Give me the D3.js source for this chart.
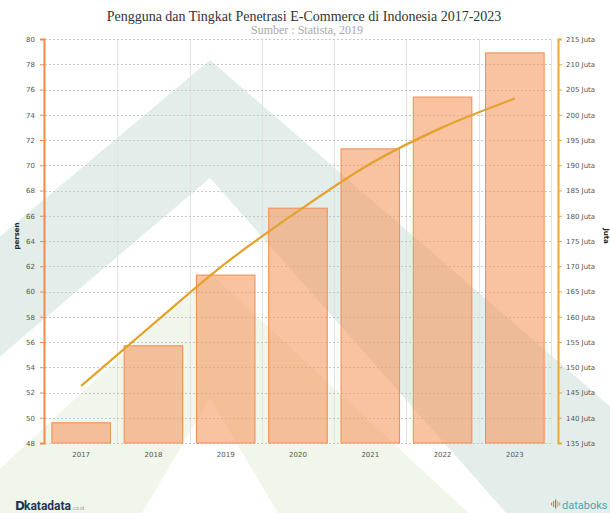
<!DOCTYPE html>
<html>
<head>
<meta charset="utf-8">
<script src="https://cdn.jsdelivr.net/npm/d3@7"></script>
<style>
    body { margin: 0; background: #fff; }
    svg { display: block; }
    .tick text { font-family: 'DejaVu Sans', sans-serif; font-size: 7px; fill: #555; }
</style>
</head>
<body>
<svg id="chart" width="610" height="513"></svg>
<script>
var years = ['2017', '2018', '2019', '2020', '2021', '2022', '2023'];
// tingkat penetrasi (persen), batang
var penetration = [49.6, 55.7, 61.3, 66.6, 71.3, 75.4, 78.9];
// pengguna (juta), garis
var users = [146.3, 158.6, 170.6, 180.9, 190.3, 197.5, 203.2];
var leftTicks = [48, 50, 52, 54, 56, 58, 60, 62, 64, 66, 68, 70, 72, 74, 76, 78, 80];
var rightTicks = [135, 140, 145, 150, 155, 160, 165, 170, 175, 180, 185, 190, 195, 200, 205, 210, 215];

var svg = d3.select('#chart');
var plotLeft = 45;
var plotRight = 551;
var plotTop = 39;
var plotBottom = 443;

var xScale = d3.scaleBand().domain(years).range([plotLeft, plotRight]).paddingInner(0.19).paddingOuter(0.095);
var yLeft = d3.scaleLinear().domain([48, 80]).range([plotBottom, plotTop]);
var yRight = d3.scaleLinear().domain([135, 215]).range([plotBottom, plotTop]);

// watermark di latar belakang
var wm = svg.append('g');
wm.append('polygon')
    .attr('points', '-10,245 210,60 620,415 620,540 530,540 210,178 -10,365')
    .attr('fill', '#e3eeeb');
wm.append('polygon')
    .attr('points', '-10,478 210,273 476,520 282,520 210,398 138,520 -10,520')
    .attr('fill', '#f0f6ea');

// grid
var step = xScale.step();
svg.append('g')
    .selectAll('line')
    .data(years)
    .enter()
    .append('line')
    .attr('x1', function (d, i) { return Math.round(plotLeft + step * (i + 1)) + 0.5; })
    .attr('x2', function (d, i) { return Math.round(plotLeft + step * (i + 1)) + 0.5; })
    .attr('y1', plotTop)
    .attr('y2', plotBottom)
    .attr('stroke', '#e2e2e2')
    .attr('stroke-width', 1);
svg.append('g')
    .selectAll('line')
    .data(leftTicks)
    .enter()
    .append('line')
    .attr('x1', plotLeft)
    .attr('x2', plotRight)
    .attr('y1', function (d) { return Math.round(yLeft(d)) + 0.5; })
    .attr('y2', function (d) { return Math.round(yLeft(d)) + 0.5; })
    .attr('stroke', '#c8c8c8')
    .attr('stroke-dasharray', '2,2');

// batang
svg.append('g')
    .selectAll('rect')
    .data(penetration)
    .enter()
    .append('rect')
    .attr('x', function (d, i) { return xScale(years[i]); })
    .attr('y', function (d) { return yLeft(d); })
    .attr('width', xScale.bandwidth())
    .attr('height', function (d) { return plotBottom - yLeft(d); })
    .attr('fill', '#f59a60')
    .attr('fill-opacity', 0.6)
    .attr('stroke', '#f28c50')
    .attr('stroke-width', 1);

// garis pengguna
var line = d3.line()
    .x(function (d, i) { return xScale(years[i]) + xScale.bandwidth() / 2; })
    .y(function (d) { return yRight(d); })
    .curve(d3.curveMonotoneX);
svg.append('path')
    .attr('d', line(users))
    .attr('fill', 'none')
    .attr('stroke', '#e4a22c')
    .attr('stroke-width', 2.2);

// sumbu kiri
var gl = svg.append('g')
    .attr('transform', 'translate(44, 0)')
    .call(d3.axisLeft(yLeft).tickValues(leftTicks).tickSize(4).tickPadding(5));
gl.select('.domain').attr('stroke', '#f08a4c').attr('stroke-width', 2);
gl.selectAll('.tick line').attr('stroke', '#f08a4c');

// sumbu kanan
var gr = svg.append('g')
    .attr('transform', 'translate(558, 0)')
    .call(d3.axisRight(yRight).tickValues(rightTicks).tickSize(4).tickPadding(4)
        .tickFormat(function (d) { return d + ' Juta'; }));
gr.select('.domain').attr('stroke', '#e8a838').attr('stroke-width', 2);
gr.selectAll('.tick line').attr('stroke', '#e8a838');

// sumbu bawah
var gx = svg.append('g')
    .attr('transform', 'translate(0, ' + plotBottom + ')')
    .call(d3.axisBottom(xScale).tickSize(0).tickPadding(9));
gx.select('.domain').remove();

// judul sumbu
svg.append('text')
    .attr('transform', 'translate(19, 236) rotate(-90)')
    .attr('text-anchor', 'middle')
    .style('font-family', 'DejaVu Sans, sans-serif')
    .style('font-size', '7px')
    .style('font-weight', 'bold')
    .attr('fill', '#222')
    .text('persen');
svg.append('text')
    .attr('transform', 'translate(604, 236) rotate(90)')
    .attr('text-anchor', 'middle')
    .style('font-family', 'DejaVu Sans, sans-serif')
    .style('font-size', '7px')
    .style('font-weight', 'bold')
    .attr('fill', '#222')
    .text('Juta');

// judul
svg.append('text')
    .attr('x', 304)
    .attr('y', 21)
    .attr('text-anchor', 'middle')
    .style('font-family', 'Liberation Serif, serif')
    .style('font-size', '14px')
    .attr('fill', '#333')
    .text('Pengguna dan Tingkat Penetrasi E-Commerce di Indonesia 2017-2023');
svg.append('text')
    .attr('x', 307)
    .attr('y', 34)
    .attr('text-anchor', 'middle')
    .style('font-family', 'Liberation Serif, serif')
    .style('font-size', '12px')
    .attr('fill', '#a8a8a8')
    .text('Sumber : Statista, 2019');

// logo katadata
var kl = svg.append('g');
kl.append('text')
    .attr('x', 15)
    .attr('y', 510)
    .style('font-family', 'DejaVu Sans, sans-serif')
    .style('font-size', '12px')
    .style('font-weight', 'bold')
    .attr('fill', '#1d3557')
    .text('D');
kl.append('text')
    .attr('x', 24)
    .attr('y', 510)
    .style('font-family', 'Roboto, sans-serif')
    .style('font-size', '12px')
    .style('font-weight', 'bold')
    .attr('fill', '#1d3557')
    .text('katadata');
kl.append('text')
    .attr('x', 72)
    .attr('y', 510)
    .style('font-family', 'Roboto, sans-serif')
    .style('font-size', '5px')
    .attr('fill', '#999')
    .text('.co.id');

// logo databoks
var db = svg.append('g');
var bars = [[551, 3, '#e8764a'], [553, 6, '#e8764a'], [555, 9, '#e05a3a'], [557, 6, '#e8a04a'], [559, 3, '#e8a04a']];
bars.forEach(function (b) {
    db.append('rect')
        .attr('x', b[0])
        .attr('y', 505 - b[1] / 2 - 1)
        .attr('width', 1.2)
        .attr('height', b[1])
        .attr('fill', b[2]);
});
db.append('text')
    .attr('x', 562)
    .attr('y', 509)
    .style('font-family', 'Roboto, sans-serif')
    .style('font-size', '11px')
    .attr('fill', '#4aa6ad')
    .text('databoks');
</script>
</body>
</html>
